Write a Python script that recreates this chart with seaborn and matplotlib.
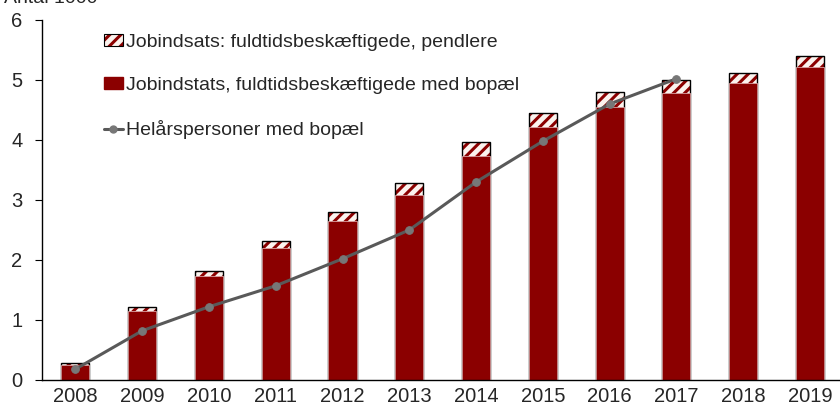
import numpy as np
import pandas as pd
import seaborn as sns
import matplotlib.pyplot as plt
from matplotlib.patches import Patch
from matplotlib.lines import Line2D

# values in 1000 persons
years = ['2008', '2009', '2010', '2011', '2012', '2013',
         '2014', '2015', '2016', '2017', '2018', '2019']
bopael = [0.25, 1.15, 1.73, 2.20, 2.65, 3.08, 3.73, 4.22, 4.55, 4.78, 4.95, 5.22]
pendlere = [0.03, 0.07, 0.09, 0.12, 0.15, 0.20, 0.24, 0.23, 0.25, 0.22, 0.17, 0.18]
helaar_years = ['2008', '2009', '2010', '2011', '2012', '2013',
                '2014', '2015', '2016', '2017']
helaar = [0.18, 0.82, 1.22, 1.57, 2.02, 2.50, 3.30, 3.98, 4.60, 5.02]

lbl_pend = 'Jobindsats: fuldtidsbeskæftigede, pendlere'
lbl_bop = 'Jobindstats, fuldtidsbeskæftigede med bopæl'
lbl_hel = 'Helårspersoner med bopæl'

RED = '#8b0000'
GREY = '#595959'

sns.set_style('white')
plt.rcParams['font.family'] = ['Liberation Sans', 'DejaVu Sans']
plt.rcParams['hatch.linewidth'] = 2.2

df = pd.DataFrame({'year': years, 'bopael': bopael, 'pendlere': pendlere})
df['total'] = df['bopael'] + df['pendlere']
line_df = pd.DataFrame({'pos': [years.index(y) for y in helaar_years], 'val': helaar})

fig = plt.figure(figsize=(8.4, 4.13), dpi=100)
ax = fig.add_axes([0.05, 0.08, 0.954, 0.8716])

w = 0.42
# hatched pendler segment: hatch first, then black outline, then bopael bars on top
sns.barplot(data=df, x='year', y='total', color='#fbf3ee', width=w, ax=ax,
            hatch='///', edgecolor=RED, linewidth=0, saturation=1)
sns.barplot(data=df, x='year', y='total', fill=False, width=w, ax=ax,
            edgecolor='black', linewidth=1.0)
sns.barplot(data=df, x='year', y='bopael', color=RED, width=w, ax=ax,
            edgecolor='#d8a0a0', linewidth=0.6, saturation=1)
sns.lineplot(data=line_df, x='pos', y='val', ax=ax, color=GREY, lw=2.2,
             marker='o', markersize=5.5, markerfacecolor='#777777',
             markeredgecolor='#777777', zorder=5)

ax.set_xlim(-0.5, 11.5)
ax.set_ylim(0, 6)
ax.set_yticks(range(7))
ax.set_xlabel('')
ax.set_ylabel('')
for s in ['top', 'right']:
    ax.spines[s].set_visible(False)
for s in ['left', 'bottom']:
    ax.spines[s].set_color('black')
    ax.spines[s].set_linewidth(1.0)
ax.set_xticks(np.arange(-0.5, 12, 1), minor=True)
ax.tick_params(axis='x', which='major', length=0, labelsize=14.5, pad=5)
ax.tick_params(axis='x', which='minor', length=5, direction='out', color='black')
ax.tick_params(axis='y', length=5, direction='out', color='black', left=True,
               labelsize=14.5, pad=9)

handles = [
    (Patch(facecolor='#fbf3ee', edgecolor=RED, hatch='///', linewidth=0),
     Patch(fill=False, edgecolor='black', linewidth=0.8)),
    Patch(facecolor=RED, edgecolor=RED),
    Line2D([0], [0], color=GREY, lw=2.2, marker='o', markersize=5,
           markerfacecolor='#777777', markeredgecolor='#777777'),
]
ax.legend(handles, [lbl_pend, lbl_bop, lbl_hel], loc='upper left',
          bbox_to_anchor=(0.06, 1.0), frameon=False, fontsize=14,
          labelspacing=1.35, handlelength=1.0, handleheight=0.6,
          handletextpad=0.15, borderpad=0.2)

# unit label sits at the very top edge, as in the source figure
fig.text(0.005, 0.993, 'Antal 1000', fontsize=14, va='baseline', ha='left')

fig.savefig('out.png', dpi=100)
